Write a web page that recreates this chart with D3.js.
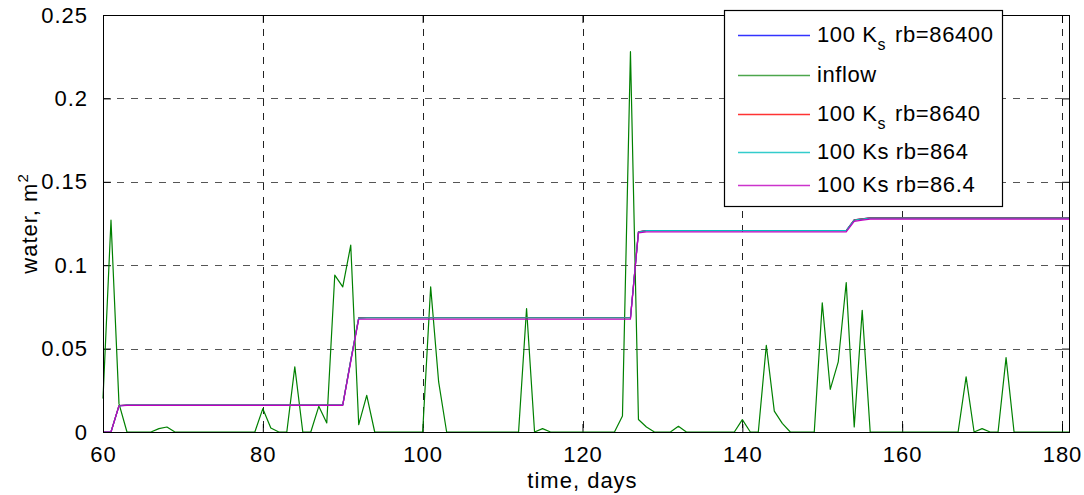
<!DOCTYPE html>
<html><head><meta charset="utf-8">
<script src="https://cdn.jsdelivr.net/npm/d3@7"></script>
<style>
html,body{margin:0;padding:0;background:#fff;}
svg text{font-family:"Liberation Sans",Arial,sans-serif;}
</style></head>
<body><svg id="c" width="1084" height="495"></svg>
<script>
// x values: days
const days = d3.range(60, 182);
const xTicks = [60, 80, 100, 120, 140, 160, 180];
const yTicks = [0, 0.05, 0.1, 0.15, 0.2, 0.25];
const yTickLabels = ["0", "0.05", "0.1", "0.15", "0.2", "0.25"];

const inflow = [
  0.020,0.127,0.017,0,0,0,0,0.002,0.003,0,
  0,0,0,0,0,0,0,0,0,0,
  0.014,0.0024,0,0,0.039,0,0,0.0154,0.0054,0.094,
  0.087,0.112,0.0044,0.022,0,0,0,0,0,0,
  0,0.087,0.030,0,0,0,0,0,0,0,
  0,0,0,0.074,0,0.002,0,0,0,0,
  0,0,0,0,0,0.0096,0.228,0.0075,0.003,0,
  0,0,0.0034,0,0,0,0,0,0,0,
  0.0074,0,0,0.052,0.0125,0.0052,0,0,0,0,
  0.0774,0.0256,0.042,0.0896,0.003,0.073,0,0,0,0,
  0,0,0,0,0,0,0,0,0.033,0,
  0.002,0,0,0.0446,0,0,0,0,0,0,
  0,0
];

const rb86400 = [
  0,0,0.0158,0.0162,0.0162,0.0162,0.0162,0.0162,0.0162,0.0162,
  0.0162,0.0162,0.0162,0.0162,0.0162,0.0162,0.0162,0.0162,0.0162,0.0162,
  0.0162,0.0162,0.0162,0.0162,0.0162,0.0162,0.0162,0.0162,0.0162,0.0162,
  0.0162,0.043,0.0684,0.0686,0.0686,0.0686,0.0686,0.0686,0.0686,0.0686,
  0.0686,0.0686,0.0686,0.0686,0.0686,0.0686,0.0686,0.0686,0.0686,0.0686,
  0.0686,0.0686,0.0686,0.0686,0.0686,0.0686,0.0686,0.0686,0.0686,0.0686,
  0.0686,0.0686,0.0686,0.0686,0.0686,0.0686,0.0686,0.1200,0.1208,0.1208,
  0.1208,0.1208,0.1208,0.1208,0.1208,0.1208,0.1208,0.1208,0.1208,0.1208,
  0.1208,0.1208,0.1208,0.1208,0.1208,0.1208,0.1208,0.1208,0.1208,0.1208,
  0.1208,0.1208,0.1208,0.1208,0.1272,0.1278,0.1284,0.1284,0.1284,0.1284,
  0.1284,0.1284,0.1284,0.1284,0.1284,0.1284,0.1284,0.1284,0.1284,0.1284,
  0.1284,0.1284,0.1284,0.1284,0.1284,0.1284,0.1284,0.1284,0.1284,0.1284,
  0.1284,0.1284
];
const rb8640 = [
  0,0,0.0158,0.0162,0.0162,0.0162,0.0162,0.0162,0.0162,0.0162,
  0.0162,0.0162,0.0162,0.0162,0.0162,0.0162,0.0162,0.0162,0.0162,0.0162,
  0.0162,0.0162,0.0162,0.0162,0.0162,0.0162,0.0162,0.0162,0.0162,0.0162,
  0.0162,0.043,0.0684,0.0686,0.0686,0.0686,0.0686,0.0686,0.0686,0.0686,
  0.0686,0.0686,0.0686,0.0686,0.0686,0.0686,0.0686,0.0686,0.0686,0.0686,
  0.0686,0.0686,0.0686,0.0686,0.0686,0.0686,0.0686,0.0686,0.0686,0.0686,
  0.0686,0.0686,0.0686,0.0686,0.0686,0.0686,0.0686,0.1200,0.1208,0.1208,
  0.1208,0.1208,0.1208,0.1208,0.1208,0.1208,0.1208,0.1208,0.1208,0.1208,
  0.1208,0.1208,0.1208,0.1208,0.1208,0.1208,0.1208,0.1208,0.1208,0.1208,
  0.1208,0.1208,0.1208,0.1208,0.1272,0.1278,0.1284,0.1284,0.1284,0.1284,
  0.1284,0.1284,0.1284,0.1284,0.1284,0.1284,0.1284,0.1284,0.1284,0.1284,
  0.1284,0.1284,0.1284,0.1284,0.1284,0.1284,0.1284,0.1284,0.1284,0.1284,
  0.1284,0.1284
];
const rb864 = [
  0,0,0.0157,0.0161,0.0161,0.0161,0.0161,0.0161,0.0161,0.0161,
  0.0161,0.0161,0.0161,0.0161,0.0161,0.0161,0.0161,0.0161,0.0161,0.0161,
  0.0161,0.0161,0.0161,0.0161,0.0161,0.0161,0.0161,0.0161,0.0161,0.0161,
  0.0161,0.043,0.0683,0.0685,0.0685,0.0685,0.0685,0.0685,0.0685,0.0685,
  0.0685,0.0685,0.0685,0.0685,0.0685,0.0685,0.0685,0.0685,0.0685,0.0685,
  0.0685,0.0685,0.0685,0.0685,0.0685,0.0685,0.0685,0.0685,0.0685,0.0685,
  0.0685,0.0685,0.0685,0.0685,0.0685,0.0685,0.0685,0.1199,0.1207,0.1207,
  0.1207,0.1207,0.1207,0.1207,0.1207,0.1207,0.1207,0.1207,0.1207,0.1207,
  0.1207,0.1207,0.1207,0.1207,0.1207,0.1207,0.1207,0.1207,0.1207,0.1207,
  0.1207,0.1207,0.1207,0.1207,0.1271,0.1277,0.1283,0.1283,0.1283,0.1283,
  0.1283,0.1283,0.1283,0.1283,0.1283,0.1283,0.1283,0.1283,0.1283,0.1283,
  0.1283,0.1283,0.1283,0.1283,0.1283,0.1283,0.1283,0.1283,0.1283,0.1283,
  0.1283,0.1283
];
const rb86_4 = [
  0,0,0.0156,0.016,0.016,0.016,0.016,0.016,0.016,0.016,
  0.016,0.016,0.016,0.016,0.016,0.016,0.016,0.016,0.016,0.016,
  0.016,0.016,0.016,0.016,0.016,0.016,0.016,0.016,0.016,0.016,
  0.016,0.042,0.0676,0.0676,0.0676,0.0676,0.0676,0.0676,0.0676,0.0676,
  0.0676,0.0676,0.0676,0.0676,0.0676,0.0676,0.0676,0.0676,0.0676,0.0676,
  0.0676,0.0676,0.0676,0.0676,0.0676,0.0676,0.0676,0.0676,0.0676,0.0676,
  0.0676,0.0676,0.0676,0.0676,0.0676,0.0676,0.0676,0.1194,0.1200,0.1200,
  0.1200,0.1200,0.1200,0.1200,0.1200,0.1200,0.1200,0.1200,0.1200,0.1200,
  0.1200,0.1200,0.1200,0.1200,0.1200,0.1200,0.1200,0.1200,0.1200,0.1200,
  0.1200,0.1200,0.1200,0.1200,0.1263,0.1270,0.1276,0.1276,0.1276,0.1276,
  0.1276,0.1276,0.1276,0.1276,0.1276,0.1276,0.1276,0.1276,0.1276,0.1276,
  0.1276,0.1276,0.1276,0.1276,0.1276,0.1276,0.1276,0.1276,0.1276,0.1276,
  0.1276,0.1276
];

const seriesNames = ["100 K_s rb=86400", "inflow", "100 K_s rb=8640", "100 Ks rb=864", "100 Ks rb=86.4"];
const seriesColors = ["#0000ff", "#008000", "#ff0000", "#00bfbf", "#bf00bf"];
const legendColors = ["#3333ff", "#4ca64c", "#ff3333", "#33cccc", "#cc33cc"];
const seriesData = [rb86400, inflow, rb8640, rb864, rb86_4];

const W = 1084, H = 495;
const m = {left: 103, right: 14, top: 15, bottom: 63};
const iw = W - m.left - m.right, ih = H - m.top - m.bottom;
const svg = d3.select("#c");
const g = svg.append("g").attr("transform", `translate(${m.left},${m.top})`);

const x = d3.scaleLinear().domain([60, 181]).range([0, iw]);
const y = d3.scaleLinear().domain([0, 0.25]).range([ih, 0]);

// grid
g.append("g").selectAll("line").data(xTicks.filter(d => d > 60)).join("line")
  .attr("x1", d => Math.round(x(d)) + 0.5).attr("x2", d => Math.round(x(d)) + 0.5)
  .attr("y1", 0).attr("y2", ih)
  .attr("stroke", "#222").attr("stroke-width", 1).attr("stroke-dasharray", "7,7");
g.append("g").selectAll("line").data(yTicks.filter(d => d > 0 && d < 0.25)).join("line")
  .attr("x1", 0).attr("x2", iw)
  .attr("y1", d => Math.round(y(d)) + 0.5).attr("y2", d => Math.round(y(d)) + 0.5)
  .attr("stroke", "#555").attr("stroke-width", 1).attr("stroke-dasharray", "7,7");

// axes
const fs = 22;
const ls = "1px";
const xAxis = d3.axisBottom(x).tickValues(xTicks).tickSizeInner(-8).tickSizeOuter(0).tickPadding(14);
const gx = g.append("g").attr("transform", `translate(0,${ih})`).call(xAxis);
const xAxisTop = d3.axisTop(x).tickValues(xTicks).tickSizeInner(-8).tickSizeOuter(0).tickFormat("");
g.append("g").call(xAxisTop);
const yAxis = d3.axisLeft(y).tickValues(yTicks).tickSizeInner(-8).tickSizeOuter(0).tickPadding(15)
  .tickFormat((d, i) => yTickLabels[i]);
const gy = g.append("g").call(yAxis);
const yAxisR = d3.axisRight(y).tickValues(yTicks).tickSizeInner(-8).tickSizeOuter(0).tickFormat("");
g.append("g").attr("transform", `translate(${iw},0)`).call(yAxisR);
g.selectAll(".domain").remove();
g.selectAll(".tick line").attr("stroke", "#000");
g.selectAll(".tick text").attr("font-size", fs).attr("fill", "#000")
  .attr("letter-spacing", ls).attr("font-family", "Liberation Sans, Arial, sans-serif");

// series
const line = d3.line().x((d, i) => x(days[i])).y(d => y(d));
const plotOrder = [0, 1, 2, 3, 4];
plotOrder.forEach(k => {
  g.append("path").datum(seriesData[k]).attr("d", line)
    .attr("fill", "none").attr("stroke", seriesColors[k]).attr("stroke-width", 1.2)
    .attr("stroke-linejoin", "round");
});

// frame
g.append("rect").attr("x", 0.5).attr("y", 0.5).attr("width", iw - 1).attr("height", ih)
  .attr("fill", "none").attr("stroke", "#000").attr("stroke-width", 1);

// labels
svg.append("text").attr("x", m.left + x(120)).attr("y", 488).attr("text-anchor", "middle")
  .attr("font-size", fs).attr("letter-spacing", ls).text("time, days");
const yl = svg.append("text").attr("transform", `translate(37,${m.top + ih / 2}) rotate(-90)`)
  .attr("text-anchor", "middle").attr("font-size", fs).attr("letter-spacing", ls);
yl.append("tspan").text("water, m");
yl.append("tspan").attr("font-size", 15).attr("dy", -9).text("2");

// legend
const lg = svg.append("g");
lg.append("rect").attr("x", 724.5).attr("y", 10.5).attr("width", 278).attr("height", 196)
  .attr("fill", "#fff").attr("stroke", "#000").attr("stroke-width", 1.2);
const rowY = [35, 75, 114, 152, 185];
seriesNames.forEach((name, i) => {
  lg.append("line").attr("x1", 738).attr("x2", 810).attr("y1", rowY[i] + 0.5).attr("y2", rowY[i] + 0.5)
    .attr("stroke", legendColors[i]).attr("stroke-width", 1.5);
  const t = lg.append("text").attr("x", 817).attr("y", rowY[i] + 7).attr("font-size", 22)
    .attr("letter-spacing", "0.6px");
  if (name.includes("K_s")) {
    const parts = name.split("K_s");
    t.append("tspan").text(parts[0] + "K");
    t.append("tspan").attr("dy", 8).attr("font-size", 16).text("s");
    t.append("tspan").attr("dy", -8).attr("dx", 9).text(parts[1].trim());
  } else {
    t.text(name);
  }
});
</script>
</body></html>
